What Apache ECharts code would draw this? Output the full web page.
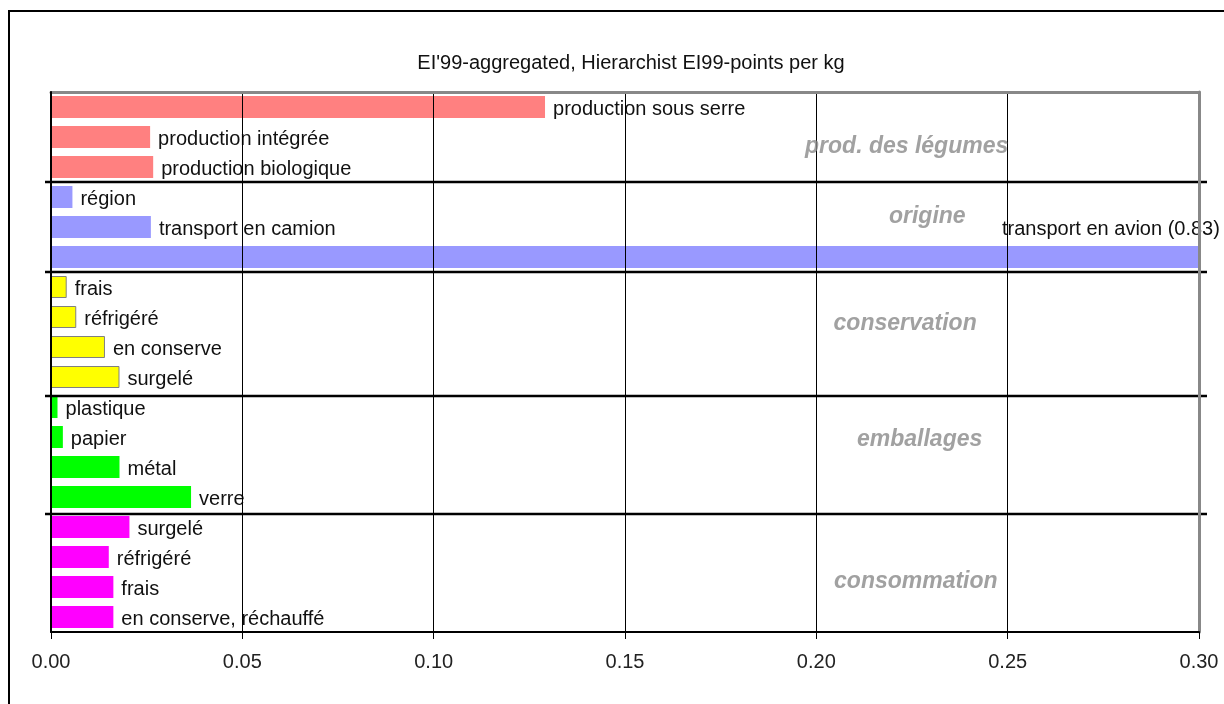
<!DOCTYPE html>
<html>
<head>
<meta charset="utf-8">
<script src="https://cdn.jsdelivr.net/npm/echarts@6/dist/echarts.min.js"></script>
<style>
html,body{margin:0;padding:0;background:#fff;}
#chart{width:1224px;height:704px;}
</style>
</head>
<body>
<div id="chart"></div>
<script>
// ---- data ----
var categories = [
  'production sous serre', 'production intégrée', 'production biologique',
  'région', 'transport en camion', 'transport en avion (0.83)',
  'frais', 'réfrigéré', 'en conserve', 'surgelé',
  'plastique', 'papier', 'métal', 'verre',
  'surgelé', 'réfrigéré', 'frais', 'en conserve, réchauffé'
];
var values = [
  0.1291, 0.0259, 0.0267,
  0.0056, 0.0261, 0.83,
  0.0041, 0.0066, 0.0141, 0.0179,
  0.0017, 0.0031, 0.0179, 0.0366,
  0.0205, 0.0151, 0.0163, 0.0163
];
var groupIndex = [0,0,0, 1,1,1, 2,2,2,2, 3,3,3,3, 4,4,4,4];
var groupNames = ['prod. des légumes', 'origine', 'conservation', 'emballages', 'consommation'];
var groupLabelX = [0.2236, 0.229, 0.2232, 0.227, 0.226];
var groupLabelRow = [1.83, 4.17, 7.73, 11.6, 16.33];
var separatorRows = [3, 6, 10.13, 14.07];
var xTicks = [0, 0.05, 0.10, 0.15, 0.20, 0.25, 0.30];
var titleText = "EI'99-aggregated, Hierarchist EI99-points per kg";

// ---- styles ----
var groupColors = ['#FF8080', '#9999FF', '#FFFF00', '#00FF00', '#FF00FF'];
var groupBorders = [null, null, '#808080', null, null];
var FONT = '"Liberation Sans", Arial, sans-serif';

var barData = values.map(function (v, i) {
  var g = groupIndex[i];
  var item = {
    value: v,
    name: categories[i],
    itemStyle: {
      color: groupColors[g],
      borderColor: groupBorders[g] || groupColors[g],
      borderWidth: groupBorders[g] ? 1 : 0
    }
  };
  if (v > xTicks[xTicks.length - 1]) {
    item.label = { position: 'right', offset: [-205, -28] };
  }
  return item;
});

var chart = echarts.init(document.getElementById('chart'), null, { renderer: 'canvas' });
chart.setOption({
  animation: false,
  backgroundColor: '#fff',
  title: {
    text: titleText,
    left: 626,
    top: 48,
    textAlign: 'center',
    textStyle: { fontFamily: FONT, fontSize: 20, fontWeight: 'normal', color: '#111' }
  },
  graphic: [{
    type: 'rect',
    shape: { x: 9, y: 11, width: 1400, height: 900 },
    style: { fill: 'none', stroke: '#000', lineWidth: 2 },
    silent: true
  }],
  grid: {
    left: 51, right: 25, top: 92, bottom: 72,
    show: false
  },
  xAxis: [{
    type: 'value',
    min: xTicks[0], max: xTicks[xTicks.length - 1], interval: 0.05,
    position: 'bottom',
    z: 5,
    axisLine: { show: true, onZero: false, lineStyle: { color: '#000', width: 2 } },
    axisTick: { show: true, length: 7, lineStyle: { color: '#000', width: 1 } },
    axisLabel: {
      margin: 20, fontFamily: FONT, fontSize: 20, color: '#222',
      formatter: function (v) { return v.toFixed(2); }
    },
    splitLine: { show: true, lineStyle: { color: '#000', width: 1 } }
  }, {
    type: 'value',
    position: 'top',
    min: xTicks[0], max: xTicks[xTicks.length - 1], interval: 0.05,
    z: 5,
    axisLine: { show: true, onZero: false, lineStyle: { color: '#888', width: 3 } },
    axisTick: { show: false },
    axisLabel: { show: false },
    splitLine: { show: false }
  }],
  yAxis: [{
    type: 'category',
    data: categories.map(function (c, i) { return String(i); }),
    inverse: true,
    position: 'left',
    z: 6,
    axisLine: { show: true, onZero: false, lineStyle: { color: '#000', width: 2 } },
    axisTick: { show: false },
    axisLabel: { show: false },
    splitLine: { show: false }
  }, {
    type: 'value',
    min: 0, max: categories.length,
    inverse: true,
    position: 'right',
    z: 5,
    axisLine: { show: true, onZero: false, lineStyle: { color: '#888', width: 3 } },
    axisTick: { show: false },
    axisLabel: { show: false },
    splitLine: { show: false }
  }],
  series: [{
    type: 'bar',
    xAxisIndex: 0, yAxisIndex: 0,
    data: barData,
    barWidth: 22,
    label: {
      show: true, position: 'right', distance: 8, offset: [0, 2],
      formatter: '{b}',
      fontFamily: FONT, fontSize: 20, color: '#111'
    },
    z: 3
  }, {
    type: 'custom',
    xAxisIndex: 0, yAxisIndex: 1,
    data: separatorRows.map(function (r) { return [r]; }),
    z: 4,
    renderItem: function (params, api) {
      var p0 = api.coord([xTicks[0], api.value(0)]);
      var p1 = api.coord([xTicks[xTicks.length - 1], api.value(0)]);
      return {
        type: 'line',
        shape: { x1: p0[0] - 6, y1: p0[1], x2: p1[0] + 8, y2: p1[1] },
        style: { stroke: '#000', lineWidth: 2.5 }
      };
    }
  }, {
    type: 'scatter',
    xAxisIndex: 0, yAxisIndex: 1,
    symbolSize: 1,
    itemStyle: { color: 'rgba(0,0,0,0)' },
    data: groupNames.map(function (n, i) { return { name: n, value: [groupLabelX[i], groupLabelRow[i]] }; }),
    label: {
      show: true, position: 'inside', formatter: '{b}',
      fontFamily: FONT, fontSize: 23, fontWeight: 'bold', fontStyle: 'italic', color: '#8a8a8a'
    },
    z: 6
  }]
});
</script>
</body>
</html>
